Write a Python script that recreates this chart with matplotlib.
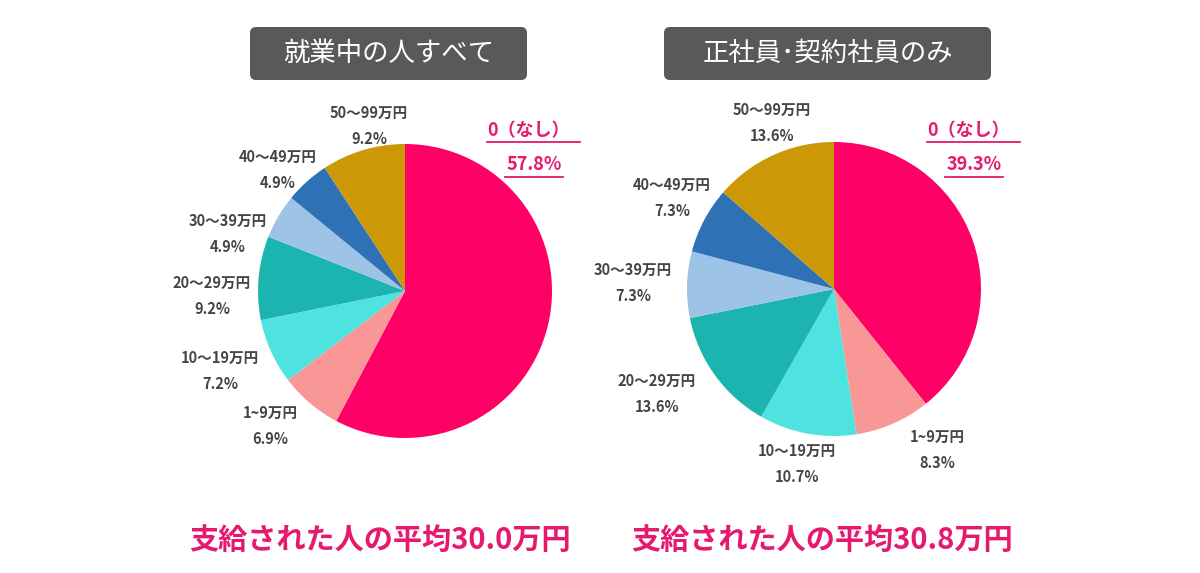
import matplotlib.pyplot as plt
from matplotlib.patches import FancyBboxPatch

plt.rcParams['font.family'] = ['Noto Sans CJK JP', 'DejaVu Sans']

# data
categories = ['0（なし）', '1~9万円', '10～19万円', '20～29万円', '30～39万円', '40～49万円', '50～99万円']
all_workers = [57.8, 6.9, 7.2, 9.2, 4.9, 4.9, 9.2]
regular_workers = [39.3, 8.3, 10.7, 13.6, 7.3, 7.3, 13.6]
titles = ['就業中の人すべて', '正社員･契約社員のみ']
averages = ['支給された人の平均30.0万円', '支給された人の平均30.8万円']

colors = ['#FF0066', '#F99696', '#4FE3DF', '#1BB4AF', '#9DC3E6', '#2E72B5', '#CC9805']
pink = '#E5196E'
label_col = '#444444'

W, H = 1200, 573
fig = plt.figure(figsize=(12, 5.73), dpi=100)
ax = fig.add_axes([0, 0, 1, 1])


def Y(y):
    # pixel y (from top) -> data y
    return H - y


def draw_pie(vals, cx, cy, r):
    ax.pie(vals, colors=colors, startangle=90, counterclock=False,
           center=(cx, Y(cy)), radius=r, frame=True,
           wedgeprops=dict(linewidth=0))


draw_pie(all_workers, 405, 291, 147)
draw_pie(regular_workers, 834, 289, 147)

# label positions (pixel centres of the two text lines), slices 1..6
left_pos = [(270, 413), (220, 358), (212, 283), (228, 221), (278, 157), (369, 113)]
right_pos = [(937, 437), (797, 451), (657, 381), (633, 270), (672, 185), (772, 110)]

for vals, pos in [(all_workers, left_pos), (regular_workers, right_pos)]:
    for i, (x, y) in enumerate(pos):
        ax.text(x, Y(y), categories[i + 1], ha='center', va='center',
                fontsize=10.5, fontweight='bold', color=label_col)
        ax.text(x, Y(y + 26), f'{vals[i + 1]:.1f}%', ha='center', va='center',
                fontsize=10.5, fontweight='bold', color=label_col)

# "0（なし）" labels, pink and underlined
zero_pos = [(487, 534), (927, 974)]
for vals, (x0, xc) in zip([all_workers, regular_workers], zero_pos):
    ax.text(x0, Y(131), categories[0], ha='left', va='center',
            fontsize=13, fontweight='bold', color=pink)
    ax.plot([x0, x0 + 93], [Y(142), Y(142)], color=pink, lw=1.3)
    ax.text(xc, Y(165), f'{vals[0]:.1f}%', ha='center', va='center',
            fontsize=13, fontweight='bold', color=pink)
    ax.plot([xc - 29, xc + 29], [Y(177), Y(177)], color=pink, lw=1.3)

# title boxes
boxes = [(250, 527), (664, 991)]
for (x0, x1), t in zip(boxes, titles):
    ax.add_patch(FancyBboxPatch((x0, Y(80)), x1 - x0, 53,
                                boxstyle='round,pad=0,rounding_size=6',
                                fc='#595959', ec='none'))
    ax.text((x0 + x1) / 2, Y(53), t, ha='center', va='center',
            fontsize=19, color='white')

# averages
for x, t in zip([380, 822], averages):
    ax.text(x, Y(540), t, ha='center', va='center', fontsize=21,
            fontweight='bold', color=pink)

ax.set_xlim(0, W)
ax.set_ylim(0, H)
ax.set_aspect('equal')
ax.axis('off')

fig.savefig('out.png', dpi=100, facecolor='white')
